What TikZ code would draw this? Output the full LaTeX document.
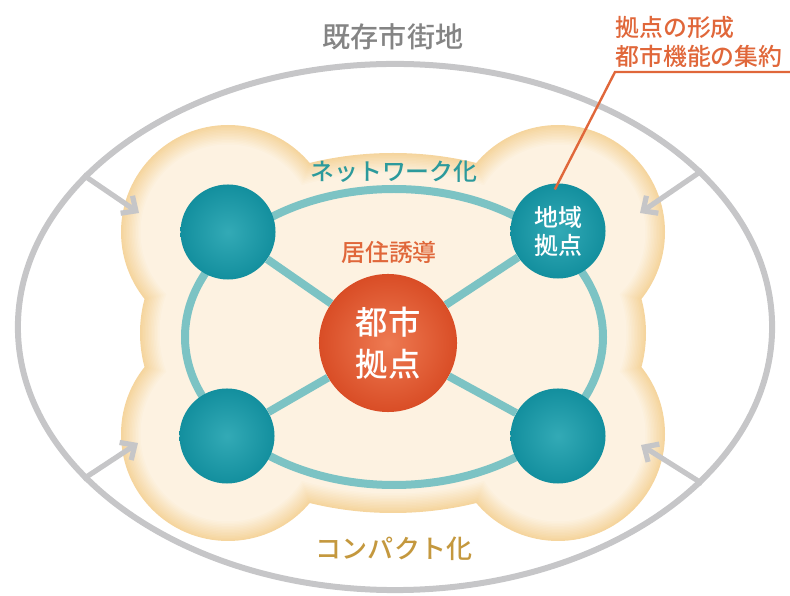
\documentclass[tikz,border=0pt]{standalone}
\usepackage{fontspec}
\newfontfamily\jp{Noto Sans CJK JP Medium}
\usetikzlibrary{shapes,arrows.meta,positioning}

\definecolor{citygray}{HTML}{C6C6C8}
\definecolor{titlegray}{HTML}{848484}
\definecolor{blobedge}{HTML}{F5D59E}
\definecolor{blobin}{HTML}{FDF3E3}
\definecolor{netline}{HTML}{7CC3C4}
\definecolor{hubteal}{HTML}{138F9E}
\definecolor{hubtealhi}{HTML}{33AAB6}
\definecolor{corered}{HTML}{D94D26}
\definecolor{coreredhi}{HTML}{EE7A52}
\definecolor{leadorange}{HTML}{E0673A}
\definecolor{netteal}{HTML}{2C9A9C}
\definecolor{compacttan}{HTML}{C4983E}

\begin{document}
\begin{tikzpicture}[x=0.025cm, y=-0.025cm]
% Define node styles
\tikzstyle{hub} = [circle, minimum size=2.375cm, inner sep=0pt, shading=radial, inner color=hubtealhi, outer color=hubteal, text=white, font=\jp\fontsize{17}{20}\selectfont, align=center]
\tikzstyle{core} = [circle, minimum size=3.45cm, inner sep=0pt, shading=radial, inner color=coreredhi, outer color=corered, text=white, font=\jp\fontsize{23}{30}\selectfont, align=center]
\tikzstyle{link} = [netline, line width=0.2cm]
\tikzstyle{push} = [citygray, line width=0.13cm, -{Straight Barb[length=8pt, width=15pt]}]
\tikzstyle{lead} = [leadorange, line width=0.06cm]
\tikzstyle{tag} = [font=\jp\fontsize{17}{21}\selectfont, inner sep=0pt]

\useasboundingbox (0,0) rectangle (790,596);

% Existing urban area
\node[ellipse, draw=citygray, line width=0.15cm, minimum width=18.85cm, minimum height=13.15cm, inner sep=0pt] (city) at (395,327) {};
\node[tag, text=titlegray, font=\jp\fontsize{20}{24}\selectfont] (title) at (393,37) {既存市街地};

% Compact area, soft edge
\foreach \s [evaluate=\s as \m using 100-5*\s] in {0,1.5,...,20} {
  \fill[blobedge!\m!blobin] (228,232) circle[radius=107-\s] (558,232) circle[radius=107-\s]
    (228,434) circle[radius=107-\s] (558,434) circle[radius=107-\s]
    (393,333) ellipse[x radius=253-\s, y radius=180-\s];
}

% Arrows pushing inwards
\coordinate (tlTip) at (139,213);
\coordinate (trTip) at (640,213);
\coordinate (blTip) at (138,443);
\coordinate (brTip) at (641,445);
\draw[push] (city.154) -- (tlTip);
\draw[push] (city.27) -- (trTip);
\draw[push] (city.206) -- (blTip);
\draw[push] (city.-27) -- (brTip);

% Network ring
\draw[link] (394,337) ellipse[x radius=209, y radius=148];

% Draw nodes
\node[hub] (tl) at (228,232) {};
\node[hub] (tr) at (558,231) {地域\\拠点};
\node[hub] (bl) at (227,436) {};
\node[hub] (br) at (558,436) {};
\node[core] (core) at (388,343) {都市\\拠点};

% Draw spokes
\draw[link] (core) -- (tl);
\draw[link] (core) -- (tr);
\draw[link] (core) -- (bl);
\draw[link] (core) -- (br);

% Labels
\node[tag, text=netteal] (network) at (394,172) {ネットワーク化};
\node[tag, text=leadorange] (induce) at (389,252) {居住誘導};
\node[tag, text=compacttan, font=\jp\fontsize{18.5}{22}\selectfont] (compact) at (394,549) {コンパクト化};

% Callout
\node[tag, text=leadorange, align=left, anchor=west] (goal) at (615,42) {拠点の形成\\都市機能の集約};
\coordinate (ulL) at (615,72);
\coordinate (ulR) at (790,72);
\draw[lead, shorten >=-5pt] (ulR) -- (ulL) -- (tr.north);
\end{tikzpicture}
\end{document}
